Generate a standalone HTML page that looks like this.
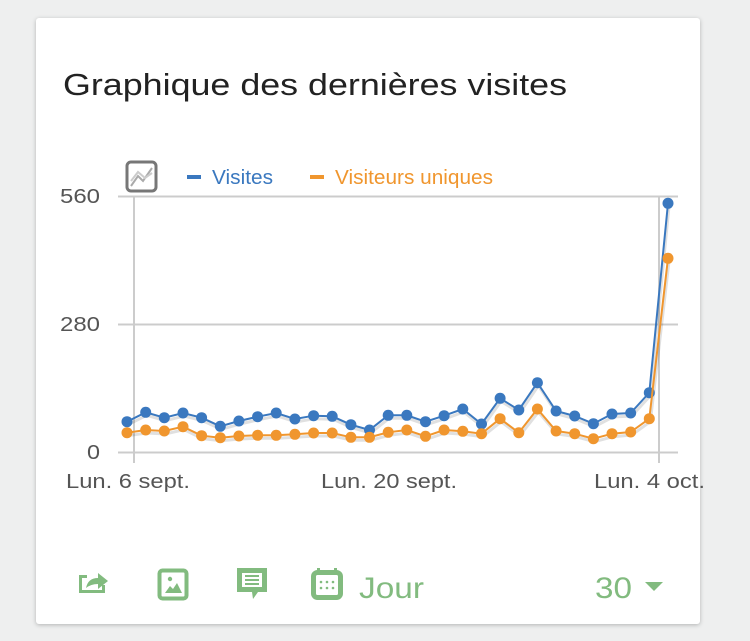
<!DOCTYPE html>
<html><head><meta charset="utf-8"><style>
html,body{margin:0;padding:0;background:#eeefef;width:750px;height:641px;overflow:hidden;font-family:"Liberation Sans",sans-serif}
.card{position:absolute;left:36px;top:18px;width:664px;height:606px;background:#fff;border-radius:3px;box-shadow:0 1px 4px rgba(0,0,0,.25)}
svg{position:absolute;left:0;top:0}
</style></head><body>
<div class="card"></div>
<svg width="750" height="641" viewBox="0 0 750 641">
<text x="63" y="95" font-size="31" fill="#222" textLength="504" lengthAdjust="spacingAndGlyphs">Graphique des dernières visites</text>
<rect x="127" y="162" width="29" height="29" rx="4" fill="#fff" stroke="#777" stroke-width="3"/>
<polyline points="131,186 138,176 143,181 152,168" fill="none" stroke="#aaa" stroke-width="2"/>
<polyline points="131,181 138,172 145,178 152,173" fill="none" stroke="#ccc" stroke-width="2"/>
<rect x="187" y="175" width="14" height="4" fill="#3a78bf"/>
<text x="212" y="184" font-size="20" fill="#3a78bf" textLength="61" lengthAdjust="spacingAndGlyphs">Visites</text>
<rect x="310" y="175" width="14" height="4" fill="#f0962e"/>
<text x="335" y="184" font-size="20" fill="#f0962e" textLength="158" lengthAdjust="spacingAndGlyphs">Visiteurs uniques</text>
<line x1="118" y1="196.5" x2="678" y2="196.5" stroke="#ccc" stroke-width="2"/>
<line x1="118" y1="324.5" x2="678" y2="324.5" stroke="#ccc" stroke-width="2"/>
<line x1="118" y1="452.5" x2="678" y2="452.5" stroke="#ccc" stroke-width="2"/>
<line x1="134" y1="196" x2="134" y2="463" stroke="#ccc" stroke-width="2"/>
<line x1="659" y1="196" x2="659" y2="463" stroke="#ccc" stroke-width="2"/>
<g font-size="20" fill="#555">
<text x="60" y="203" textLength="40" lengthAdjust="spacingAndGlyphs">560</text>
<text x="60" y="331" textLength="40" lengthAdjust="spacingAndGlyphs">280</text>
<text x="87" y="459" textLength="13" lengthAdjust="spacingAndGlyphs">0</text>
<text x="66" y="488" textLength="124" lengthAdjust="spacingAndGlyphs">Lun. 6 sept.</text>
<text x="321" y="488" textLength="136" lengthAdjust="spacingAndGlyphs">Lun. 20 sept.</text>
<text x="594" y="488" textLength="111" lengthAdjust="spacingAndGlyphs">Lun. 4 oct.</text>
</g>
<g fill="none" stroke="#000" stroke-opacity=".12" stroke-width="3" transform="translate(1,3)">
<polyline points="127,421.7 145.7,412.3 164.3,417.7 183,413 201.6,417.7 220.3,426.3 238.9,421 257.6,416.7 276.2,413 294.9,419 313.6,415.7 332.2,416.3 350.9,424.7 369.5,430 388.2,415.3 406.8,415.3 425.5,421.7 444.1,415.7 462.8,409 481.5,424 500.1,398.3 518.8,410 537.4,382.7 556.1,411 574.7,416 593.4,423.7 612,414 630.7,413 649.3,392.7 668,203.3"/>
<polyline points="127,432.7 145.7,430 164.3,431 183,426.7 201.6,435.7 220.3,437.7 238.9,436 257.6,435.3 276.2,435.3 294.9,434.3 313.6,433 332.2,433 350.9,437.3 369.5,437.3 388.2,432.3 406.8,430 425.5,436.3 444.1,430 462.8,431.3 481.5,433.7 500.1,418.7 518.8,432.7 537.4,409 556.1,431 574.7,433.7 593.4,438.7 612,433.7 630.7,432 649.3,418.7 668,258.3"/>
</g>
<g fill="#3a78bf" stroke="#3a78bf">
<polyline fill="none" stroke-width="2" points="127,421.7 145.7,412.3 164.3,417.7 183,413 201.6,417.7 220.3,426.3 238.9,421 257.6,416.7 276.2,413 294.9,419 313.6,415.7 332.2,416.3 350.9,424.7 369.5,430 388.2,415.3 406.8,415.3 425.5,421.7 444.1,415.7 462.8,409 481.5,424 500.1,398.3 518.8,410 537.4,382.7 556.1,411 574.7,416 593.4,423.7 612,414 630.7,413 649.3,392.7 668,203.3"/>
<g stroke="none">
<circle cx="127" cy="421.7" r="5.5"/><circle cx="145.7" cy="412.3" r="5.5"/><circle cx="164.3" cy="417.7" r="5.5"/><circle cx="183" cy="413" r="5.5"/><circle cx="201.6" cy="417.7" r="5.5"/><circle cx="220.3" cy="426.3" r="5.5"/><circle cx="238.9" cy="421" r="5.5"/><circle cx="257.6" cy="416.7" r="5.5"/><circle cx="276.2" cy="413" r="5.5"/><circle cx="294.9" cy="419" r="5.5"/><circle cx="313.6" cy="415.7" r="5.5"/><circle cx="332.2" cy="416.3" r="5.5"/><circle cx="350.9" cy="424.7" r="5.5"/><circle cx="369.5" cy="430" r="5.5"/><circle cx="388.2" cy="415.3" r="5.5"/><circle cx="406.8" cy="415.3" r="5.5"/><circle cx="425.5" cy="421.7" r="5.5"/><circle cx="444.1" cy="415.7" r="5.5"/><circle cx="462.8" cy="409" r="5.5"/><circle cx="481.5" cy="424" r="5.5"/><circle cx="500.1" cy="398.3" r="5.5"/><circle cx="518.8" cy="410" r="5.5"/><circle cx="537.4" cy="382.7" r="5.5"/><circle cx="556.1" cy="411" r="5.5"/><circle cx="574.7" cy="416" r="5.5"/><circle cx="593.4" cy="423.7" r="5.5"/><circle cx="612" cy="414" r="5.5"/><circle cx="630.7" cy="413" r="5.5"/><circle cx="649.3" cy="392.7" r="5.5"/><circle cx="668" cy="203.3" r="5.5"/>
</g></g>
<g fill="#f0962e" stroke="#f0962e">
<polyline fill="none" stroke-width="2" points="127,432.7 145.7,430 164.3,431 183,426.7 201.6,435.7 220.3,437.7 238.9,436 257.6,435.3 276.2,435.3 294.9,434.3 313.6,433 332.2,433 350.9,437.3 369.5,437.3 388.2,432.3 406.8,430 425.5,436.3 444.1,430 462.8,431.3 481.5,433.7 500.1,418.7 518.8,432.7 537.4,409 556.1,431 574.7,433.7 593.4,438.7 612,433.7 630.7,432 649.3,418.7 668,258.3"/>
<g stroke="none">
<circle cx="127" cy="432.7" r="5.5"/><circle cx="145.7" cy="430" r="5.5"/><circle cx="164.3" cy="431" r="5.5"/><circle cx="183" cy="426.7" r="5.5"/><circle cx="201.6" cy="435.7" r="5.5"/><circle cx="220.3" cy="437.7" r="5.5"/><circle cx="238.9" cy="436" r="5.5"/><circle cx="257.6" cy="435.3" r="5.5"/><circle cx="276.2" cy="435.3" r="5.5"/><circle cx="294.9" cy="434.3" r="5.5"/><circle cx="313.6" cy="433" r="5.5"/><circle cx="332.2" cy="433" r="5.5"/><circle cx="350.9" cy="437.3" r="5.5"/><circle cx="369.5" cy="437.3" r="5.5"/><circle cx="388.2" cy="432.3" r="5.5"/><circle cx="406.8" cy="430" r="5.5"/><circle cx="425.5" cy="436.3" r="5.5"/><circle cx="444.1" cy="430" r="5.5"/><circle cx="462.8" cy="431.3" r="5.5"/><circle cx="481.5" cy="433.7" r="5.5"/><circle cx="500.1" cy="418.7" r="5.5"/><circle cx="518.8" cy="432.7" r="5.5"/><circle cx="537.4" cy="409" r="5.5"/><circle cx="556.1" cy="431" r="5.5"/><circle cx="574.7" cy="433.7" r="5.5"/><circle cx="593.4" cy="438.7" r="5.5"/><circle cx="612" cy="433.7" r="5.5"/><circle cx="630.7" cy="432" r="5.5"/><circle cx="649.3" cy="418.7" r="5.5"/><circle cx="668" cy="258.3" r="5.5"/>
</g></g>
<g fill="#82bb7f" stroke="#82bb7f">
<path d="M79,575 h8 v3 h-5 v12 h20 v-5 h3 v8 h-26 z" stroke="none"/>
<path d="M86,588 q2,-10 12,-10 v-5 l10,8 l-10,8 v-5 q-7,0 -12,4 z" stroke="none"/>
<rect x="159.5" y="570.5" width="27" height="28" rx="3" fill="none" stroke-width="4"/>
<path d="M165,593 l5,-7 l3,3 l4,-6 l5,10 z" stroke="none"/>
<circle cx="170" cy="579" r="2.2" stroke="none"/>
<path d="M237,568 h30 v24 h-9 l-5,7 l-1,-7 h-15 z" stroke="none"/>
<rect x="242" y="573" width="20" height="14" fill="#fff" stroke="none"/>
<rect x="245" y="575" width="14" height="2" stroke="none"/><rect x="245" y="579" width="14" height="2" stroke="none"/><rect x="245" y="583" width="14" height="2" stroke="none"/>
<rect x="313.5" y="572.5" width="27" height="25" rx="4" fill="none" stroke-width="5"/>
<rect x="317" y="568" width="3" height="6" stroke="none"/><rect x="334" y="568" width="3" height="6" stroke="none"/>
<g stroke="none"><circle cx="321" cy="582" r="1.3"/><circle cx="327" cy="582" r="1.3"/><circle cx="333" cy="582" r="1.3"/><circle cx="321" cy="588" r="1.3"/><circle cx="327" cy="588" r="1.3"/><circle cx="333" cy="588" r="1.3"/></g>
</g>
<text x="359" y="598" font-size="30" fill="#82bb7f" textLength="65" lengthAdjust="spacingAndGlyphs">Jour</text>
<text x="595" y="598" font-size="30" fill="#82bb7f" textLength="37" lengthAdjust="spacingAndGlyphs">30</text>
<path d="M645,582 h18 l-9,9 z" fill="#82bb7f"/>
</svg>
</body></html>
